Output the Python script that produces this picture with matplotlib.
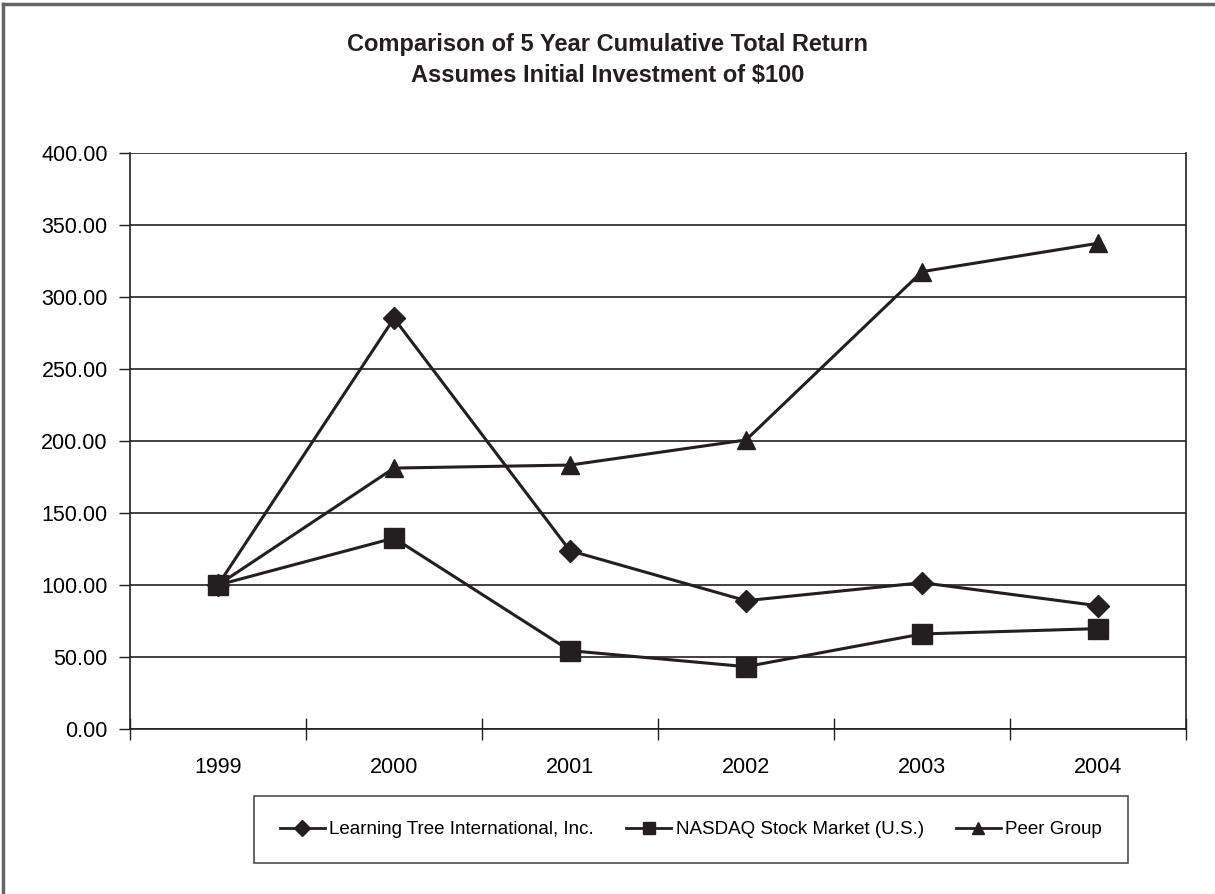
import matplotlib
matplotlib.use("Agg")
import matplotlib.pyplot as plt
from matplotlib import font_manager
from matplotlib.lines import Line2D

# Datos
years = ["1999", "2000", "2001", "2002", "2003", "2004"]
learning_tree = [100.0, 285.2, 123.8, 89.1, 101.6, 85.6]
nasdaq = [100.0, 132.6, 54.4, 43.3, 66.0, 69.7]
peer_group = [100.0, 181.2, 183.3, 200.7, 317.6, 337.3]

series_names = ["Learning Tree International, Inc.", "NASDAQ Stock Market (U.S.)", "Peer Group"]
y_ticks = [0, 50, 100, 150, 200, 250, 300, 350, 400]

# Fuente condensada si esta disponible
names = {f.name for f in font_manager.fontManager.ttflist}
if "Liberation Sans Narrow" in names:
    plt.rcParams["font.family"] = ["Liberation Sans Narrow", "DejaVu Sans"]
else:
    plt.rcParams["font.family"] = ["Liberation Sans", "DejaVu Sans"]

ink = "#231f20"

fig = plt.figure(figsize=(12.15, 8.94), dpi=100)
ax = fig.add_axes([130 / 1215, 1 - 729 / 894, 1056 / 1215, 576 / 894])

x = list(range(len(years)))
ax.plot(x, learning_tree, color=ink, lw=2.2, marker="D", markersize=11, label=series_names[0], zorder=3)
ax.plot(x, nasdaq, color=ink, lw=2.2, marker="s", markersize=14, label=series_names[1], zorder=3)
ax.plot(x, peer_group, color=ink, lw=2.2, marker="^", markersize=13, label=series_names[2], zorder=3)

ax.set_xlim(-0.5, len(years) - 0.5)
ax.set_ylim(0, 400)
ax.set_yticks(y_ticks)
ax.set_yticklabels([f"{v:.2f}" for v in y_ticks], fontsize=15.5)
ax.yaxis.grid(True, color=ink, lw=1.2)
ax.set_axisbelow(True)

# etiquetas de años centradas, marcas entre categorias
ax.set_xticks([i - 0.5 for i in range(len(years) + 1)])
ax.set_xticklabels([])
ax.set_xticks(x, minor=True)
ax.set_xticklabels(years, minor=True, fontsize=15.5)
ax.tick_params(axis="x", which="minor", length=0, pad=20)
ax.tick_params(axis="x", which="major", direction="inout", length=16, width=1, color=ink)
ax.tick_params(axis="y", direction="out", length=8, width=1, color=ink, pad=8)

for side in ["left", "bottom", "right"]:
    ax.spines[side].set_color(ink)
    ax.spines[side].set_linewidth(1.2)
ax.spines["top"].set_visible(False)

fig.text(0.5, 1 - 45 / 894, "Comparison of 5 Year Cumulative Total Return", ha="center", va="center",
         fontsize=17, fontweight="bold", color=ink)
fig.text(0.5, 1 - 75 / 894, "Assumes Initial Investment of $100", ha="center", va="center",
         fontsize=17, fontweight="bold", color=ink)

handles = [
    Line2D([], [], color=ink, lw=2, marker="D", markersize=8),
    Line2D([], [], color=ink, lw=2, marker="s", markersize=9),
    Line2D([], [], color=ink, lw=2, marker="^", markersize=9),
]
leg = fig.legend(handles, series_names, loc="center", bbox_to_anchor=(691 / 1215, 1 - 829.5 / 894),
                 ncol=3, fontsize=13.5, frameon=True, fancybox=False, handlelength=2.4,
                 borderpad=1.35, columnspacing=1.7, handletextpad=0.25)
leg.get_frame().set_edgecolor(ink)
leg.get_frame().set_linewidth(1.2)

# marco exterior gris
fig.add_artist(Line2D([3 / 1215, 3 / 1215], [0, 1 - 4 / 894], color="#666666", lw=2.5))
fig.add_artist(Line2D([3 / 1215, 1], [1 - 4 / 894, 1 - 4 / 894], color="#666666", lw=2.5))

fig.savefig("out.png", dpi=100)
